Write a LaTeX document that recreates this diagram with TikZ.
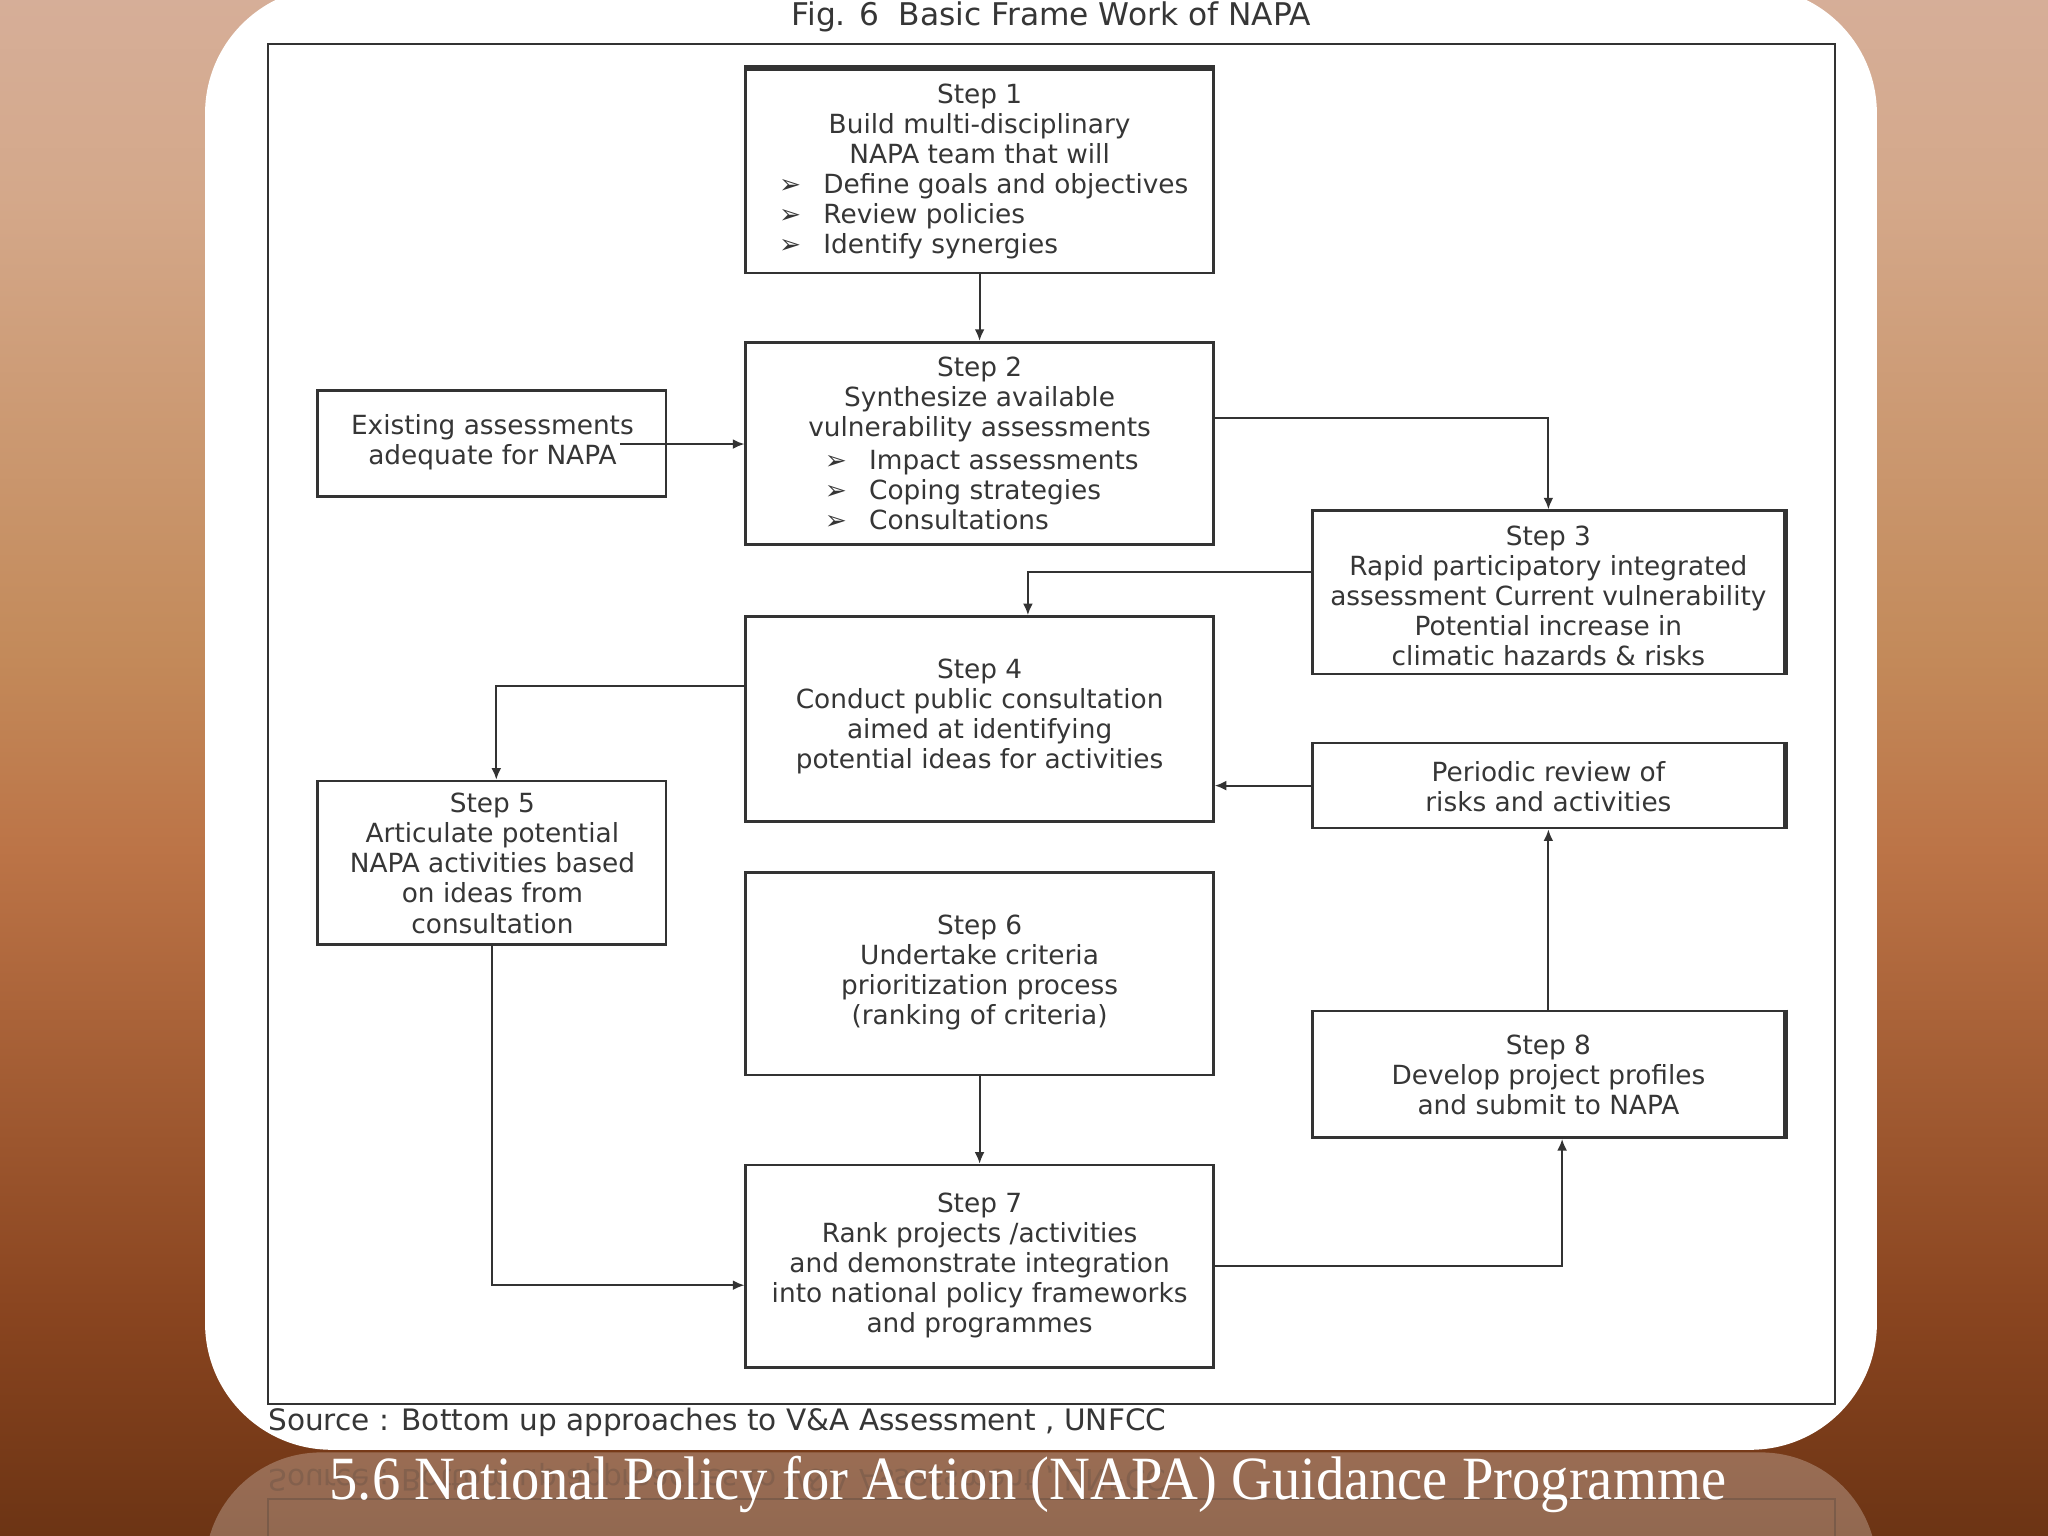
\documentclass[tikz,border=0pt]{standalone}
\usepackage{fontspec}
\newfontfamily\djs{DejaVu Sans}
\newfontfamily\lser{Liberation Serif}
\usetikzlibrary{arrows.meta,fit}
\definecolor{bga}{HTML}{D6AE98}
\definecolor{bgb}{HTML}{D4A88A}
\definecolor{bgc}{HTML}{C38A5A}
\definecolor{bgd}{HTML}{BC7447}
\definecolor{bge}{HTML}{8A4520}
\definecolor{bgf}{HTML}{6C3414}
\definecolor{ink}{HTML}{363636}
\definecolor{boxline}{HTML}{333333}
\newcommand\bul{\makebox[12.6pt][l]{➢}}
\tikzset{
  box/.style={draw=boxline, line width=0.75pt, inner sep=0pt, fill=white},
  txt/.style={font=\djs\fontsize{7.5}{8.55}\selectfont, text=ink, align=center, inner sep=0pt},
  lst/.style={txt, align=left, anchor=west},
  arr/.style={draw=boxline, line width=0.55pt, -{Latex[length=3.3pt,width=2.8pt]}},
}
\begin{document}
\begin{tikzpicture}[x=0.013061cm,y=-0.013061cm]
\useasboundingbox (0,0) rectangle (1568,1176);
\clip (0,0) rectangle (1568,1176);
% background
\shade[top color=bga, bottom color=bgb] (0,-1) rectangle (1568,151);
\shade[top color=bgb, bottom color=bgc] (0,150) rectangle (1568,501);
\shade[top color=bgc, bottom color=bgd] (0,500) rectangle (1568,651);
\shade[top color=bgd, bottom color=bge] (0,650) rectangle (1568,1001);
\shade[top color=bge, bottom color=bgf] (0,1000) rectangle (1568,1177);
% reflection
\fill[white, opacity=0.26, rounded corners=33pt] (157,1112) rectangle (1437,1300);
\draw[boxline, opacity=0.25, line width=0.6pt] (205,1190) -- (205,1148) -- (1405,1148) -- (1405,1190);
\node[txt, anchor=west, yscale=-1, opacity=0.2, font=\djs\fontsize{8.4}{9}\selectfont] (srcrefl) at (205,1131) {Source : Bottom up approaches to V\&A Assessment , UNFCC};
% white panel
\fill[white, rounded corners=36pt] (157,-10) rectangle (1437,1110);
% frame
\draw[boxline, line width=0.6pt] (205,34) rectangle (1405,1075);
\node[txt, font=\djs\fontsize{8.9}{9}\selectfont] (figtitle) at (805,13) {Fig. 6\ \ Basic Frame Work of NAPA};
\node[txt, anchor=west, font=\djs\fontsize{8.4}{9}\selectfont] (source) at (205,1089) {Source : Bottom up approaches to V\&A Assessment , UNFCC};
% boxes
\node[box, fit={(571,53) (929,209)}] (s1) {};
\node[box, fit={(571,262) (929,417)}] (s2) {};
\node[box, fit={(243,299) (510,380)}] (ex) {};
\node[box, fit={(1005,391) (1366,516)}] (s3) {};
\node[box, fit={(571,472) (929,629)}] (s4) {};
\node[box, fit={(243,598) (510,723)}] (s5) {};
\node[box, fit={(1005,569) (1366,634)}] (pr) {};
\node[box, fit={(571,668) (929,823)}] (s6) {};
\node[box, fit={(1005,774) (1366,871)}] (s8) {};
\node[box, fit={(571,892) (929,1047)}] (s7) {};
\draw[boxline, line width=1.4pt] (s1.north west) -- (s1.north east);
\foreach \b in {s3,pr,s8}{\draw[boxline, line width=1.6pt] (\b.north east) -- (\b.south east);}
% texts
\node[txt] (s1h) at (750,95) {Step 1\\Build multi-disciplinary\\NAPA team that will};
\node[lst] (s1l) at (596,165.5) {\bul Define goals and objectives\\\bul Review policies\\\bul Identify synergies};
\node[txt] (s2h) at (750,306) {Step 2\\Synthesize available\\vulnerability assessments};
\node[lst] (s2l) at (631,375) {\bul Impact assessments\\\bul Coping strategies\\\bul Consultations};
\node[txt] (ext) at (377,338.5) {Existing assessments\\adequate for NAPA};
\node[txt] (s3t) at (1185.5,456) {Step 3\\Rapid participatory integrated\\assessment Current vulnerability\\Potential increase in\\climatic hazards \& risks};
\node[txt] (s4t) at (750,548.5) {Step 4\\Conduct public consultation\\aimed at identifying\\potential ideas for activities};
\node[txt] (s5t) at (377,661) {Step 5\\Articulate potential\\NAPA activities based\\on ideas from\\consultation};
\node[txt] (prt) at (1185.5,602.5) {Periodic review of\\risks and activities};
\node[txt] (s6t) at (750,744.5) {Step 6\\Undertake criteria\\prioritization process\\(ranking of criteria)};
\node[txt] (s8t) at (1185.5,823) {Step 8\\Develop project profiles\\and submit to NAPA};
\node[txt] (s7t) at (750,969) {Step 7\\Rank projects /activities\\and demonstrate integration\\into national policy frameworks\\and programmes};
% helper coordinates
\coordinate (exs) at (475,340);
\coordinate (h320) at (0,320);
\coordinate (h438) at (0,438);
\coordinate (v787) at (787,0);
\coordinate (h525) at (0,525);
\coordinate (v380) at (380,0);
\coordinate (h984) at (0,984);
\coordinate (v1196) at (1196,0);
% connectors
\draw[arr] (s1.south) -- (s2.north);
\draw[arr] (exs) -- (s2.west |- exs);
\draw[arr] (s2.east |- h320) -| (s3.north);
\draw[arr] (s3.west |- h438) -| (s4.north -| v787);
\draw[arr] (s4.west |- h525) -| (s5.north -| v380);
\draw[arr] (pr.west) -- (pr.west -| s4.east);
\draw[arr] (s5.south) |- (s7.west |- h984);
\draw[arr] (s6.south) -- (s7.north);
\draw[arr] (s7.east) -| (s8.south -| v1196);
\draw[arr] (s8.north) -- (pr.south);
% slide title
\node[anchor=base, text=white, inner sep=0pt, xscale=0.92, font=\lser\fontsize{17.5}{20}\selectfont] (slidetitle) at (787,1148) {5.6 National Policy for Action (NAPA) Guidance Programme};
\end{tikzpicture}
\end{document}
